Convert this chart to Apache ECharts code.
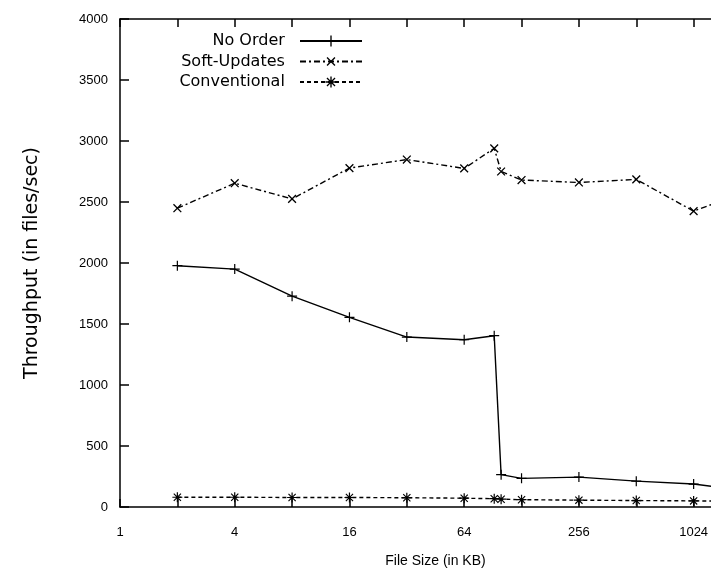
<!DOCTYPE html>
<html>
<head>
<meta charset="utf-8">
<script src="https://cdn.jsdelivr.net/npm/echarts@6/dist/echarts.min.js"></script>
<style>
html,body{margin:0;padding:0;background:#fff;}
#chart{width:711px;height:577px;}
</style>
</head>
<body>
<div id="chart"></div>
<script>
// file sizes in KB (x), throughput in files/sec (y)
var fileSizes = [2, 4, 8, 16, 32, 64, 92, 100, 128, 256, 512, 1024, 2048];
var noOrder = [1978, 1950, 1728, 1555, 1393, 1371, 1404, 265, 235, 245, 212, 188, 130];
var softUpdates = [2449, 2654, 2525, 2778, 2848, 2775, 2940, 2750, 2680, 2660, 2685, 2425, 2600];
var conventional = [80, 80, 78, 78, 76, 72, 68, 64, 60, 56, 53, 50, 48];
var xLabelValues = [1, 4, 16, 64, 256, 1024];
var seriesNames = ['No Order', 'Soft-Updates', 'Conventional'];

var FONT = 'Liberation Sans';
var WIDE = 'DejaVu Sans';
var PLUS = 'path://M0,4.4H10V5.6H0Z M4.4,0H5.6V10H4.4Z';
var STAR = 'path://M0,4.4H10V5.6H0Z M4.4,0H5.6V10H4.4Z M1,1.8L1.8,1L9,8.2L8.2,9Z M8.2,1L9,1.8L1.8,9L1,8.2Z';

function pairs(ys){
  var out = [];
  for(var i=0;i<ys.length;i++){
    out.push([fileSizes[i], ys[i]]);
  }
  return out;
}

function xLabel(v){
  for(var i=0;i<xLabelValues.length;i++){
    if(Math.abs(v - xLabelValues[i]) < 0.01) return xLabelValues[i] + '';
  }
  return '';
}

var chart = echarts.init(document.getElementById('chart'), null, {renderer:'canvas'});
var axisLineStyle = {color:'#000', width:1.5};

chart.setOption({
  animation:false,
  backgroundColor:'#fff',
  // plot box runs past the right edge of the picture, as in the original
  grid:{left:120, top:19, width:631, height:488, containLabel:false, outerBoundsMode:'none'},
  legend:{
    data:seriesNames,
    orient:'vertical',
    right:348,
    top:33,
    padding:0,
    align:'right',
    itemWidth:62,
    itemHeight:14,
    itemGap:4.5,
    formatter:function(n){ return n + '  '; },
    textStyle:{fontFamily:WIDE, fontSize:16, color:'#000'}
  },
  xAxis:[{
    type:'log',
    logBase:2,
    min:1,
    max:2048,
    interval:1,
    position:'bottom',
    name:'File Size (in KB)',
    nameLocation:'middle',
    nameGap:47,
    nameTextStyle:{fontFamily:FONT, fontSize:14, color:'#000'},
    axisLine:{onZero:false, lineStyle:axisLineStyle},
    axisTick:{inside:true, length:8, lineStyle:axisLineStyle},
    axisLabel:{margin:19, fontFamily:FONT, fontSize:13, color:'#000', formatter:xLabel},
    splitLine:{show:false}
  },{
    type:'log',
    logBase:2,
    min:1,
    max:2048,
    interval:1,
    position:'top',
    axisLine:{onZero:false, lineStyle:axisLineStyle},
    axisTick:{inside:true, length:8, lineStyle:axisLineStyle},
    axisLabel:{show:false},
    splitLine:{show:false}
  }],
  yAxis:[{
    type:'value',
    min:0,
    max:4000,
    interval:500,
    position:'left',
    name:'Throughput (in files/sec)',
    nameLocation:'middle',
    nameGap:78,
    nameRotate:90,
    nameTextStyle:{fontFamily:WIDE, fontSize:19, color:'#000'},
    axisLine:{show:true, lineStyle:axisLineStyle},
    axisTick:{show:true, inside:true, length:9, lineStyle:axisLineStyle},
    axisLabel:{margin:12, fontFamily:FONT, fontSize:13, color:'#000', formatter:function(v){ return v + ''; }},
    splitLine:{show:false}
  }],
  series:[{
    name:'No Order',
    type:'line',
    data:pairs(noOrder),
    symbol:PLUS,
    symbolSize:10,
    color:'#000',
    itemStyle:{color:'#000'},
    lineStyle:{color:'#000', width:1.4, type:'solid'}
  },{
    name:'Soft-Updates',
    type:'line',
    data:pairs(softUpdates),
    symbol:PLUS,
    symbolRotate:45,
    symbolSize:11,
    color:'#000',
    itemStyle:{color:'#000'},
    lineStyle:{color:'#000', width:1.4, type:[6,3,2,3]}
  },{
    name:'Conventional',
    type:'line',
    data:pairs(conventional),
    symbol:STAR,
    symbolSize:10,
    color:'#000',
    itemStyle:{color:'#000'},
    lineStyle:{color:'#000', width:1.4, type:[4,3]}
  }]
});
</script>
</body>
</html>
